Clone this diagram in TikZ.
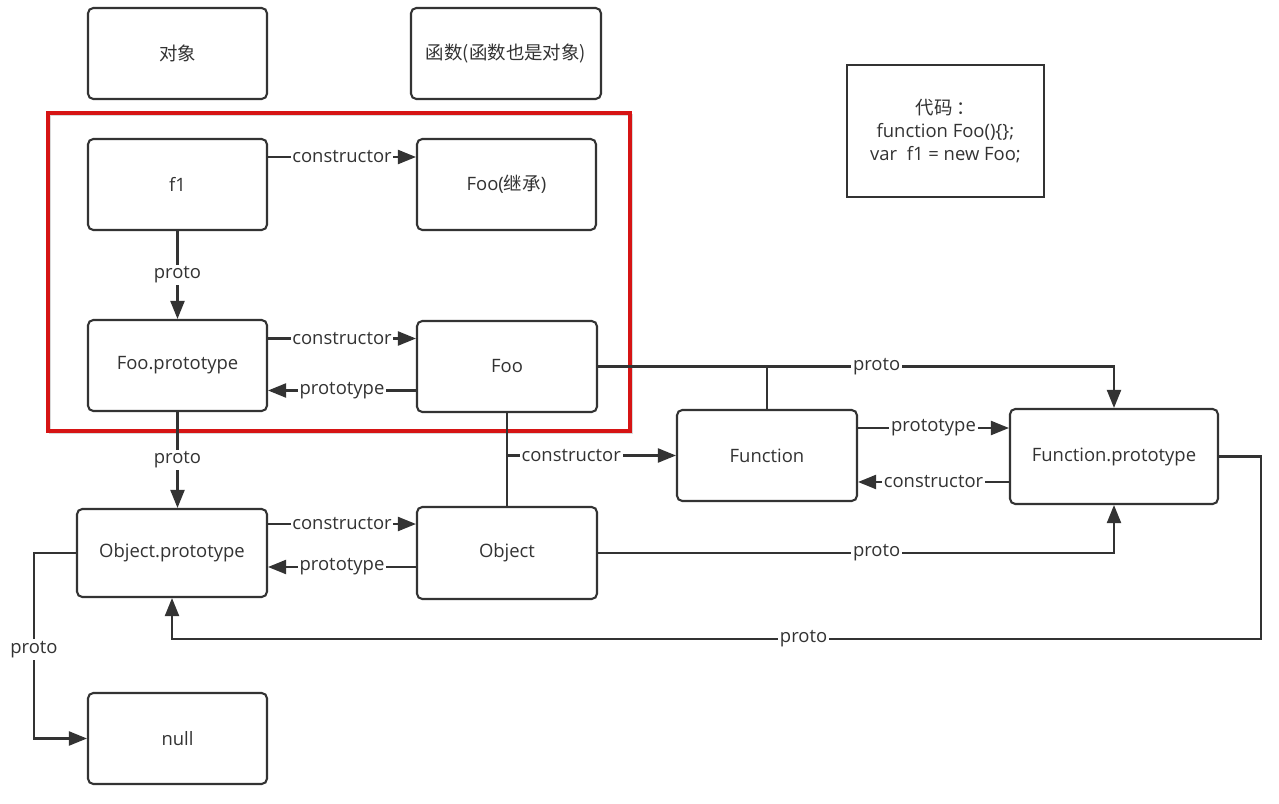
\documentclass[tikz,border=0pt]{standalone}
\usepackage{fontspec}
\setmainfont{Open Sans}
\newfontfamily\cjk{Noto Sans CJK SC}
\usetikzlibrary{arrows.meta,positioning,calc}
\definecolor{linegrey}{RGB}{51,51,51}
\definecolor{framered}{RGB}{214,20,20}

\begin{document}
\begin{tikzpicture}[x=0.02cm, y=-0.02cm,
    box/.style={rectangle, draw=linegrey, fill=white, rounded corners=3pt, line width=1.2pt,
                minimum width=3.58cm, minimum height=1.82cm, align=center, text=linegrey,
                font=\fontsize{10.5}{13}\selectfont, inner sep=2pt},
    arr/.style={-{Triangle[length=3.6mm,width=2.8mm]}, line width=1.2pt, linegrey},
    lbl/.style={fill=white, inner sep=1pt, text=linegrey, font=\fontsize{10.5}{13}\selectfont}
]
\useasboundingbox (0,0) rectangle (1279,804);

% red frame round the Foo part
\draw[black!15, line width=1.6pt] (50,115) rectangle (632,433);
\draw[framered, line width=2pt] (48,113) rectangle (630,431);

\node[box] (legobj)  at (177.5,53.5) {\cjk 对象};
\node[box, minimum width=3.8cm] (legfunc) at (506,53.5) {\cjk 函数(函数也是对象)};
\node[box, rounded corners=0pt, minimum width=3.94cm, minimum height=2.64cm] (code) at (945.5,131)
     {{\cjk 代码 ：}\\function Foo()\{\};\\var\ \ f1 = new Foo;};

\node[box] (f1)       at (177.5,184.5) {f1};
\node[box] (fooinh)   at (506.5,184.5) {Foo({\cjk 继承})};
\node[box] (fooproto) at (177.5,365.5) {Foo.prototype};
\node[box, minimum width=3.6cm] (foo) at (507,366.5) {Foo};
\node[box, minimum width=3.6cm] (function) at (767,455.5) {Function};
\node[box, minimum width=4.16cm, minimum height=1.9cm] (funcproto) at (1114,456.5) {Function.prototype};
\node[box, minimum width=3.8cm, minimum height=1.76cm] (objproto) at (172,553) {Object.prototype};
\node[box, minimum width=3.6cm, minimum height=1.84cm] (object) at (507,553) {Object};
\node[box] (null) at (177.5,738.5) {null};

\draw[arr] ([yshift=0.55cm]f1.east) -- node[lbl]{constructor} ([yshift=0.55cm]f1.east -| fooinh.west);
\draw[arr] (f1) -- node[lbl]{proto} (fooproto);

\draw[arr] ([yshift=0.54cm]fooproto.east) -- node[lbl]{constructor} ([yshift=0.54cm]fooproto.east -| foo.west);
\draw[arr] ([yshift=-0.48cm]foo.west) -- node[lbl]{prototype} ([yshift=-0.48cm]foo.west -| fooproto.east);

\draw[arr] (fooproto.south) -- node[lbl]{proto} (fooproto.south |- objproto.north);

\draw[arr] (foo.east) -- node[lbl, pos=0.54]{proto} (foo.east -| funcproto.north) -- (funcproto.north);
\draw[line width=1.2pt, linegrey] (function.north) -- (function.north |- foo.east);

\draw[line width=1.2pt, linegrey] (foo.south) -- (object.north);
\draw[arr] (foo.south |- function.west) -- node[lbl, pos=0.38]{constructor} (function.west);

\draw[arr] ([yshift=0.55cm]function.east) -- node[lbl]{prototype} ([yshift=0.55cm]function.east -| funcproto.west);
\draw[arr] ([yshift=-0.53cm]function.east -| funcproto.west) -- node[lbl]{constructor} ([yshift=-0.53cm]function.east);

\draw[arr] ([yshift=0.58cm]objproto.east) -- node[lbl]{constructor} ([yshift=0.58cm]objproto.east -| object.west);
\draw[arr] ([yshift=-0.28cm]object.west) -- node[lbl]{prototype} ([yshift=-0.28cm]object.west -| objproto.east);

\draw[arr] (object.east) -- node[lbl, pos=0.54]{proto} (object.east -| funcproto.south) -- (funcproto.south);

\draw[arr] (funcproto.east) -- ++(42,0) |- node[lbl, pos=0.71]{proto} ([yshift=-0.82cm]objproto.south) -- (objproto.south);

\draw[arr] (objproto.west) -- ++(-42,0) |- node[lbl, pos=0.26]{proto} (null.west);
\end{tikzpicture}
\end{document}
